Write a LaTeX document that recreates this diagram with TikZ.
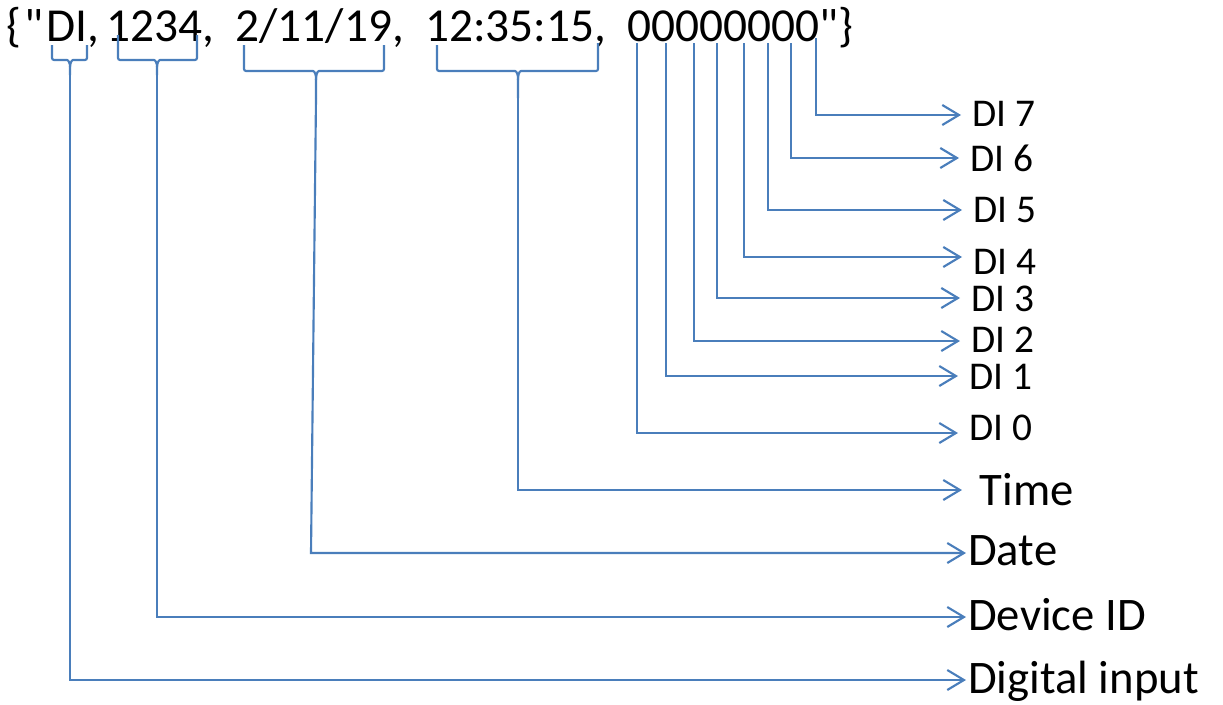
\documentclass[tikz,border=0pt]{standalone}
\usepackage{fontspec}
\setmainfont{Carlito}[Ligatures=TeXOff]
\usetikzlibrary{arrows.meta}
\definecolor{wireblue}{HTML}{4A7EBB}
\begin{document}
\begin{tikzpicture}[x=0.75pt,y=-0.75pt,
  wire/.style={draw=wireblue,line width=1.6pt},
  feed/.style={wire,-{Straight Barb[length=12.5pt,width=15pt]}},
  brace/.style={wire,rounded corners=1.5pt},
  bitlabel/.style={anchor=west,inner xsep=8.5pt,inner ysep=0pt,
    font=\fontsize{29.5}{32}\selectfont,text height=18.6pt,text depth=0pt},
  fieldlabel/.style={bitlabel,inner xsep=1.5pt,
    font=\fontsize{35}{40}\selectfont,text height=22.1pt}]
\useasboundingbox (0,0) rectangle (1223,704);

% the message string
\node[anchor=base west,inner sep=0pt,font=\fontsize{35.5}{40}\selectfont] (msg) at (6,41)
  {\{\kern2.5pt"\kern2pt DI,\kern-2.5pt\ 1234,\ \ 2/11/19,\ \ 12:35:15,\ \ 00000000"\}};

% braces under the first four fields
\draw[brace] (52,45) |- (65,60) to[out=0,in=90] (70,67) -- (70,75);
\draw[brace] (87,45) |- (75,60) to[out=180,in=90] (70,67);
\coordinate (kDI) at (70,75);

\draw[brace] (118,35) |- (152,60) to[out=0,in=90] (157,67) -- (157,75);
\draw[brace] (197,35) |- (162,60) to[out=180,in=90] (157,67);
\coordinate (kID) at (157,75);

\draw[brace] (244,45) |- (311,71) to[out=0,in=90] (316,80) -- (316,98);
\draw[brace] (384,45) |- (321,71) to[out=180,in=90] (316,80);
\coordinate (kDate) at (316,98);
\coordinate (dateBend) at (311,553);

\draw[brace] (437,45) |- (513,71) to[out=0,in=90] (518,80) -- (518,98);
\draw[brace] (598,43) |- (523,71) to[out=180,in=90] (518,80);
\coordinate (kTime) at (518,98);

% one line per bit of the digital input byte
\coordinate (b0) at (637,43);
\coordinate (b1) at (666,43);
\coordinate (b2) at (694,43);
\coordinate (b3) at (717,43);
\coordinate (b4) at (744,43);
\coordinate (b5) at (768,43);
\coordinate (b6) at (791,43);
\coordinate (b7) at (816,38);

% labels
\node[bitlabel] (d7) at (961,114) {DI 7};
\node[bitlabel] (d6) at (959,159) {DI 6};
\node[bitlabel] (d5) at (962,210) {DI 5};
\node[bitlabel] (d4) at (962,262) {DI 4};
\node[bitlabel] (d3) at (960,299) {DI 3};
\node[bitlabel] (d2) at (960,340) {DI 2};
\node[bitlabel] (d1) at (958,377) {DI 1};
\node[bitlabel] (d0) at (958,428) {DI 0};
\node[fieldlabel,inner xsep=13pt] (lTime) at (962,491) {Time};
\node[fieldlabel] (lDate) at (966,551) {Date};
\node[fieldlabel] (lID) at (966,616) {Device ID};
\node[fieldlabel] (lDI) at (966,679) {Digital input};

% connectors
\draw[feed] (b7) |- ([yshift=-0.75pt]d7.west);
\draw[feed] (b6) |- ([yshift=0.75pt]d6.west);
\draw[feed] (b5) |- (d5.west);
\draw[feed] (b4) |- ([yshift=3.75pt]d4.west);
\draw[feed] (b3) |- ([yshift=0.75pt]d3.west);
\draw[feed] (b2) |- ([yshift=-0.75pt]d2.west);
\draw[feed] (b1) |- ([yshift=0.75pt]d1.west);
\draw[feed] (b0) |- ([yshift=-3.75pt]d0.west);
\draw[feed] (kTime) |- ([yshift=0.75pt]lTime.west);
\draw[feed] (kDate) -- (dateBend) -- ([yshift=-1.5pt]lDate.west);
\draw[feed] (kID) |- ([yshift=-0.75pt]lID.west);
\draw[feed] (kDI) |- ([yshift=-0.75pt]lDI.west);
\end{tikzpicture}
\end{document}
